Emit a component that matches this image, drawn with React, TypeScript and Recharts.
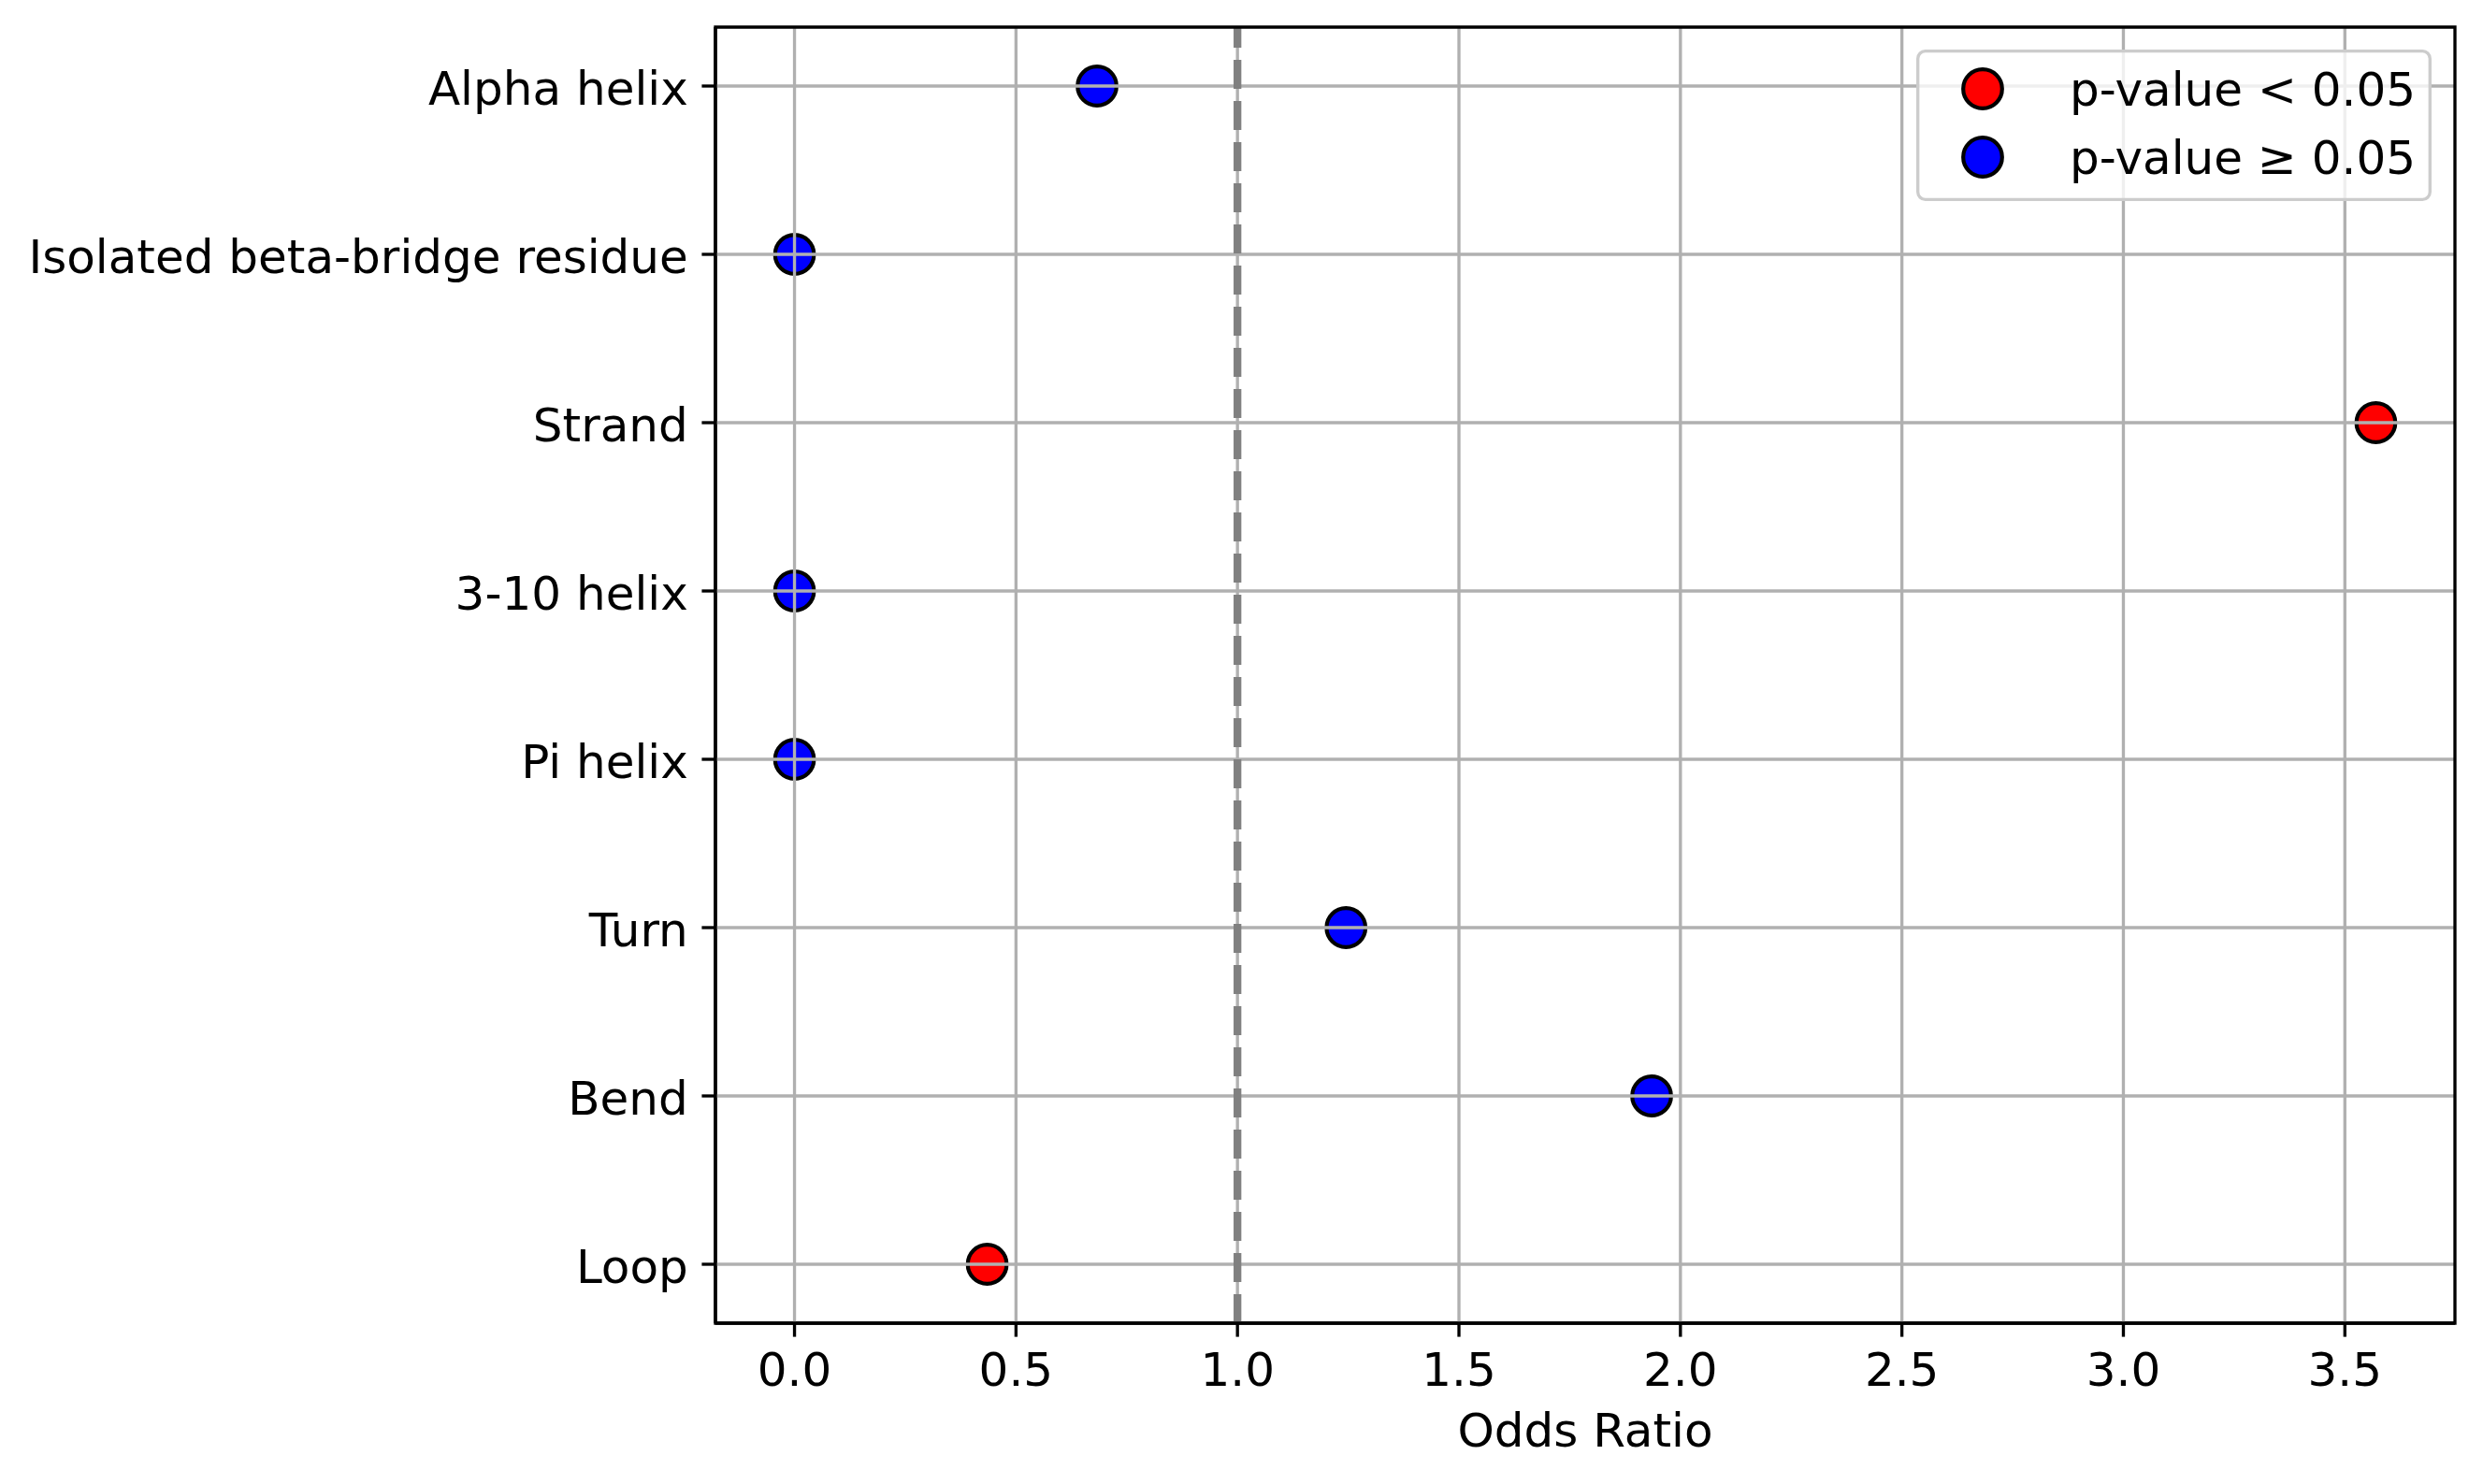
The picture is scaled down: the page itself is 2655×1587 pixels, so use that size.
import React from 'react';
import {
  ScatterChart,
  Scatter,
  XAxis,
  YAxis,
  ReferenceLine,
  ReferenceArea,
  Legend,
} from 'recharts';

const categories = [
  'Alpha helix',
  'Isolated beta-bridge residue',
  'Strand',
  '3-10 helix',
  'Pi helix',
  'Turn',
  'Bend',
  'Loop',
];
const oddsRatios = [0.683, 0.0, 3.57, 0.0, 0.0, 1.245, 1.935, 0.435];
const pValueSignificant = [false, false, true, false, false, false, false, true];
const xTicks = [0, 0.5, 1, 1.5, 2, 2.5, 3, 3.5];
const legendLabels = ['p-value < 0.05', 'p-value \u2265 0.05'];

const FONT = '"DejaVu Sans", sans-serif';
const FS = 50;
const LW = 3.33; // 0.8pt at 300 dpi
const TICK = 14.6;

const points = categories.map((name, i) => ({
  name,
  idx: i,
  or: oddsRatios[i],
  sig: pValueSignificant[i],
}));
const sigPoints = points.filter((p) => p.sig);
const nonSigPoints = points.filter((p) => !p.sig);
const yTicks = categories.map((_, i) => i);

// matplotlib-like 5% margins
const xMax = Math.max(...oddsRatios);
const xMin = Math.min(...oddsRatios);
const xPad = (xMax - xMin) * 0.05;
const xDomain: [number, number] = [xMin - xPad, xMax + xPad];
const yDomain: [number, number] = [-0.35, categories.length - 1 + 0.35];

const Dot = (color: string) => (props: any) => {
  const { cx, cy } = props;
  return <circle cx={cx} cy={cy} r={20.8} fill={color} stroke="#000" strokeWidth={4.2} />;
};

const LegendBox: React.FC<any> = () => {
  const colors = ['#ff0000', '#0000ff'];
  return (
    <svg width={551} height={162} style={{ display: 'block' }}>
      <rect x={1.7} y={1.7} width={547.6} height={158.6} rx={8} ry={8} fill="#fff" fillOpacity={0.8} stroke="#cccccc" strokeWidth={LW} />
      {legendLabels.map((label, i) => (
        <g key={label}>
          <circle cx={71} cy={42 + i * 73} r={20.8} fill={colors[i]} stroke="#000" strokeWidth={4.2} />
          <text x={164} y={60 + i * 73} fontFamily={FONT} fontSize={FS} fill="#000">
            {label}
          </text>
        </g>
      ))}
    </svg>
  );
};

const App: React.FC = () => {
  return (
    <div style={{ position: 'absolute', left: 0, top: 0, background: '#fff' }}>
      <ScatterChart
        width={2655}
        height={1587}
        margin={{ top: 29, right: 30, bottom: 32, left: 0 }}
      >
        <XAxis
          type="number"
          dataKey="or"
          domain={xDomain}
          ticks={xTicks}
          allowDataOverflow
          height={140}
          tickSize={TICK}
          tickMargin={17}
          tickFormatter={(v: number) => v.toFixed(1)}
          tick={{ fontFamily: FONT, fontSize: FS, fill: '#000' }}
          tickLine={{ stroke: '#000', strokeWidth: LW }}
          axisLine={{ stroke: '#000', strokeWidth: LW }}
          label={{
            value: 'Odds Ratio',
            position: 'insideBottom',
            offset: 8,
            style: { fontFamily: FONT, fontSize: FS, fill: '#000' },
          }}
        />
        <YAxis
          type="number"
          dataKey="idx"
          domain={yDomain}
          ticks={yTicks}
          reversed
          allowDataOverflow
          width={765}
          tickSize={TICK}
          tickMargin={TICK}
          interval={0}
          tickFormatter={(v: number) => categories[v]}
          tick={{ fontFamily: FONT, fontSize: FS, fill: '#000', dy: 2 }}
          tickLine={{ stroke: '#000', strokeWidth: LW }}
          axisLine={{ stroke: '#000', strokeWidth: LW }}
        />
        <Scatter data={sigPoints} fill="#ff0000" shape={Dot('#ff0000')} isAnimationActive={false} />
        <Scatter data={nonSigPoints} fill="#0000ff" shape={Dot('#0000ff')} isAnimationActive={false} />
        {/* grid drawn over the markers, as matplotlib does */}
        {xTicks.map((t) => (
          <ReferenceLine key={`gx${t}`} x={t} stroke="#b0b0b0" strokeWidth={LW} zIndex={700} />
        ))}
        {yTicks.map((t) => (
          <ReferenceLine key={`gy${t}`} y={t} stroke="#b0b0b0" strokeWidth={LW} zIndex={700} />
        ))}
        <ReferenceLine x={1} stroke="#808080" strokeWidth={8.3} strokeDasharray="31 13" zIndex={710} />
        <ReferenceArea
          x1={xDomain[0]}
          x2={xDomain[1]}
          y1={yDomain[0]}
          y2={yDomain[1]}
          fill="none"
          fillOpacity={0}
          stroke="#000"
          strokeWidth={LW}
          ifOverflow="visible"
          zIndex={720}
        />
        <Legend
          layout="vertical"
          align="center"
          verticalAlign="middle"
          content={<LegendBox />}
          wrapperStyle={{ left: 2049, top: 53, width: 551, height: 162 }}
        />
      </ScatterChart>
    </div>
  );
};

export default App;
